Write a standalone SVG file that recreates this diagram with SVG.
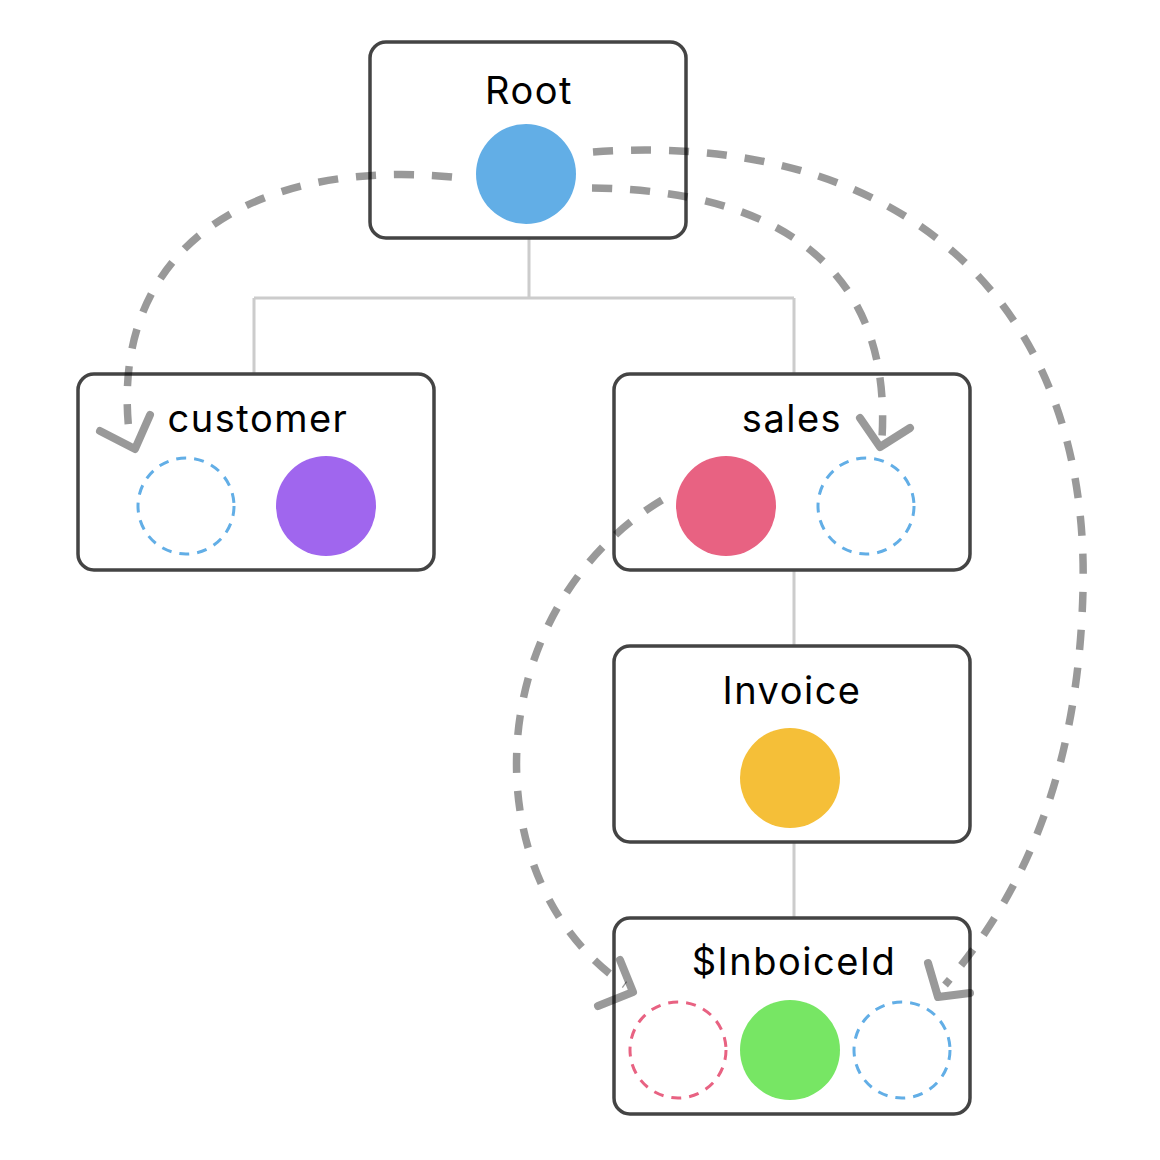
<svg xmlns="http://www.w3.org/2000/svg" width="1160" height="1160" viewBox="0 0 1160 1160">
<style>
.box{fill:#fff;stroke:#444;stroke-width:3.5}
.lbl{font-family:Inter,"Noto Sans","DejaVu Sans",sans-serif;font-size:38px;letter-spacing:1.5px;fill:#000;text-anchor:middle}
.tree{fill:none;stroke:#ccc;stroke-width:3}
.ref{fill:none;stroke:#000;stroke-opacity:0.4;stroke-width:7.5;stroke-dasharray:20 18}
.head{fill:none;stroke:#000;stroke-opacity:0.4;stroke-width:8;stroke-linecap:round;stroke-linejoin:round}
.ghost{fill:none;stroke-width:3;stroke-dasharray:10 8}
</style>
<rect width="1160" height="1160" fill="#fff"/>
<g id="tree-links">
<path class="tree" d="M529 238 V298 M254 298 H794 M254 298 V374 M794 298 V374 M794 570 V646 M794 842 V918"/>
</g>
<g id="node-root">
<rect class="box" x="370" y="42" width="316" height="196" rx="16"/>
<text class="lbl" x="529" y="104">Root</text>
<circle cx="526" cy="174" r="50" fill="#62AEE6"/>
</g>
<g id="node-customer">
<rect class="box" x="78" y="374" width="356" height="196" rx="16"/>
<text class="lbl" x="258" y="432">customer</text>
<circle class="ghost" cx="186" cy="506" r="48" stroke="#62AEE6"/>
<circle cx="326" cy="506" r="50" fill="#A066EE"/>
</g>
<g id="node-sales">
<rect class="box" x="614" y="374" width="356" height="196" rx="16"/>
<text class="lbl" x="792" y="432">sales</text>
<circle cx="726" cy="506" r="50" fill="#E86282"/>
<circle class="ghost" cx="866" cy="506" r="48" stroke="#62AEE6"/>
</g>
<g id="node-invoice">
<rect class="box" x="614" y="646" width="356" height="196" rx="16"/>
<text class="lbl" x="792" y="704">Invoice</text>
<circle cx="790" cy="778" r="50" fill="#F5BF38"/>
</g>
<g id="node-invoiceid">
<rect class="box" x="614" y="918" width="356" height="196" rx="16"/>
<text class="lbl" x="794" y="975">$InboiceId</text>
<circle class="ghost" cx="678" cy="1050" r="48" stroke="#E86282"/>
<circle cx="790" cy="1050" r="50" fill="#77E664"/>
<circle class="ghost" cx="902" cy="1050" r="48" stroke="#62AEE6"/>
</g>
<g id="connectors">
<path class="ref" d="M452 177 C250 158 105 250 130 440"/>
<polyline class="head" points="100,431 135,449 150,415"/>
<path class="ref" d="M592 188 C780 190 892 270 882 438"/>
<polyline class="head" points="860,418 880,447 910,428"/>
<path class="ref" d="M593 152 C900 130 1090 300 1083 590 C1078 800 1005 915 945 985"/>
<polyline class="head" points="928,963 938,997 970,993"/>
<path class="ref" d="M662 500 C480 610 470 880 625 985"/>
<polyline class="head" points="620,960 633,992 598,1006"/>
</g>
</svg>
